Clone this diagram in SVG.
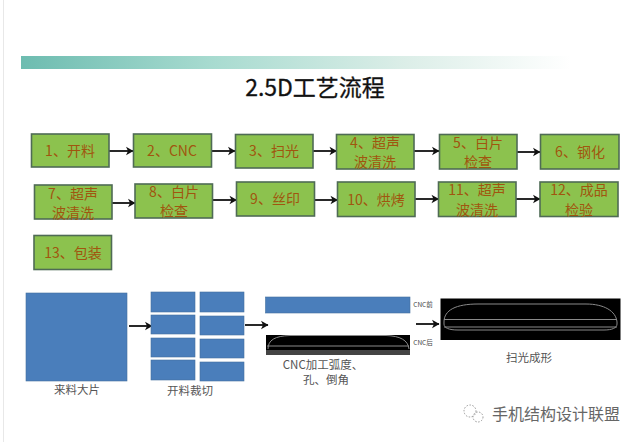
<svg xmlns="http://www.w3.org/2000/svg" width="640" height="442" viewBox="0 0 640 442">
<style>
.n{fill:#8cc24e;stroke:#4f6b55;stroke-width:1.6}
.t{font-family:"Noto Sans CJK SC","Liberation Sans",sans-serif;font-size:14px;fill:#a0560f;text-anchor:middle}
.b{fill:#4a7ebb;stroke:#44709f;stroke-width:.6}
.c{font-family:"Noto Sans CJK SC","Liberation Serif",serif;font-size:11.500px;fill:#555;text-anchor:middle}
.k{fill:#000}
.g{fill:none;stroke:#8a8a8a;stroke-width:1}
.l{stroke:#111;stroke-width:1.800;fill:none;marker-end:url(#a)}
.s{font-family:"Noto Sans CJK SC","Liberation Sans",sans-serif;font-size:6.500px;fill:#444;text-anchor:middle}
</style>
<defs>
<linearGradient id="h"><stop offset="0" stop-color="#6dbcb0"/><stop offset=".35" stop-color="#a8dbd0"/><stop offset=".7" stop-color="#dceee8"/><stop offset="1" stop-color="#fff"/></linearGradient>
<marker id="a" markerWidth="10" markerHeight="10" refX="8" refY="5" orient="auto" markerUnits="userSpaceOnUse"><path d="M1 .8 8.500 5 1 9.200 3 5Z" fill="#111"/></marker>
</defs>
<rect width="640" height="442" fill="#fff"/>
<rect x="3" y="0" width="1" height="442" fill="#e8e8e8"/>
<rect x="21" y="56" width="550" height="13" fill="url(#h)"/>
<text x="315" y="96" font-family="'Noto Sans CJK SC','Liberation Serif',serif" font-size="23" fill="#111" stroke="#111" stroke-width=".3" text-anchor="middle">2.5D工艺流程</text>
<g id="connectors">
<path class="l" d="M109 151H133"/><path class="l" d="M211.500 151H235"/><path class="l" d="M313 151H336.500"/><path class="l" d="M414 151H439"/><path class="l" d="M517 152H540"/>
<path class="l" d="M112 203H135"/><path class="l" d="M212.500 200H236.500"/><path class="l" d="M314.500 200H337.500"/><path class="l" d="M415 199H438.500"/><path class="l" d="M516 199H540"/>
<path class="l" d="M129 326H152"/><path class="l" d="M245 325H268"/><path class="l" d="M416 324H439"/>
</g>
<g id="n1"><rect class="n" x="31.500" y="134" width="77.500" height="33"/><text class="t" x="70" y="156">1、开料</text></g>
<g id="n2"><rect class="n" x="133.500" y="134" width="78" height="33"/><text class="t" x="172" y="156">2、CNC</text></g>
<g id="n3"><rect class="n" x="235.500" y="134.500" width="77.500" height="33.500"/><text class="t" x="274" y="156">3、扫光</text></g>
<g id="n4"><rect class="n" x="336.500" y="134.500" width="77.500" height="34.500"/><text class="t" x="375" y="148">4、超声</text><text class="t" x="375" y="167">波清洗</text></g>
<g id="n5"><rect class="n" x="439.500" y="134.500" width="77.500" height="34.500"/><text class="t" x="478" y="148">5、白片</text><text class="t" x="478" y="167">检查</text></g>
<g id="n6"><rect class="n" x="540.500" y="134.500" width="78.500" height="34.500"/><text class="t" x="580" y="157">6、钢化</text></g>
<g id="n7"><rect class="n" x="34.500" y="185" width="77.500" height="34"/><text class="t" x="73" y="199">7、超声</text><text class="t" x="73" y="218">波清洗</text></g>
<g id="n8"><rect class="n" x="135" y="184" width="77.500" height="34"/><text class="t" x="174" y="197">8、白片</text><text class="t" x="174" y="216">检查</text></g>
<g id="n9"><rect class="n" x="236.500" y="182" width="78" height="34"/><text class="t" x="275" y="204">9、丝印</text></g>
<g id="n10"><rect class="n" x="337.500" y="182" width="77.500" height="34.500"/><text class="t" x="376" y="205">10、烘烤</text></g>
<g id="n11"><rect class="n" x="438.500" y="182" width="77.500" height="34.500"/><text class="t" x="477" y="195">11、超声</text><text class="t" x="477" y="215">波清洗</text></g>
<g id="n12"><rect class="n" x="540" y="182" width="78" height="34.500"/><text class="t" x="579" y="195">12、成品</text><text class="t" x="579" y="215">检验</text></g>
<g id="n13"><rect class="n" x="34" y="235.500" width="77.500" height="34"/><text class="t" x="73" y="258">13、包装</text></g>
<g id="raw"><rect class="b" x="26" y="293" width="101" height="88"/><text class="c" x="77" y="394">来料大片</text></g>
<g id="cut">
<rect class="b" x="151" y="292" width="44" height="20"/><rect class="b" x="200" y="292" width="44" height="20"/>
<rect class="b" x="151" y="315" width="44" height="19"/><rect class="b" x="200" y="316" width="44" height="19"/>
<rect class="b" x="151" y="338" width="44" height="19"/><rect class="b" x="200" y="339" width="44" height="19"/>
<rect class="b" x="151" y="360" width="44" height="20"/><rect class="b" x="200" y="362" width="44" height="19"/>
<text class="c" x="190" y="395">开料裁切</text></g>
<g id="cnc">
<rect class="b" x="265.500" y="297" width="144.500" height="16"/>
<text class="s" x="423" y="307">CNC前</text>
<rect class="k" x="266" y="335" width="144" height="20"/>
<path class="g" d="M268 349C268 340 275 336 290 335.500H386C400 336 408 340 409 349"/>
<path class="g" d="M267 346H409"/>
<rect x="266" y="350" width="144" height="5" fill="#444"/>
<text class="s" x="423" y="345">CNC后</text>
<text class="c" x="323" y="369">CNC加工弧度、</text><text class="c" x="326" y="384">孔、倒角</text>
</g>
<g id="polish">
<rect class="k" x="440.500" y="298.500" width="180" height="41.500"/>
<path class="g" d="M444 322C444 310 456 304 478 304H586C604 304 616 311 617 322V324C617 328 612 330 604 330H458C449 330 444 328 444 324Z"/>
<path class="g" d="M444 319.500H617M444 327H617"/>
<text class="c" x="529" y="362">扫光成形</text>
</g>
<g id="mark">
<g fill="none" stroke="#999" stroke-width="1" stroke-dasharray="1.500 1.500"><circle cx="470" cy="411" r="6"/><circle cx="478" cy="417" r="5"/></g>
<text x="556" y="420" font-family="'Noto Sans CJK SC','Liberation Sans',sans-serif" font-size="16" fill="#666" text-anchor="middle">手机结构设计联盟</text>
</g>
</svg>
